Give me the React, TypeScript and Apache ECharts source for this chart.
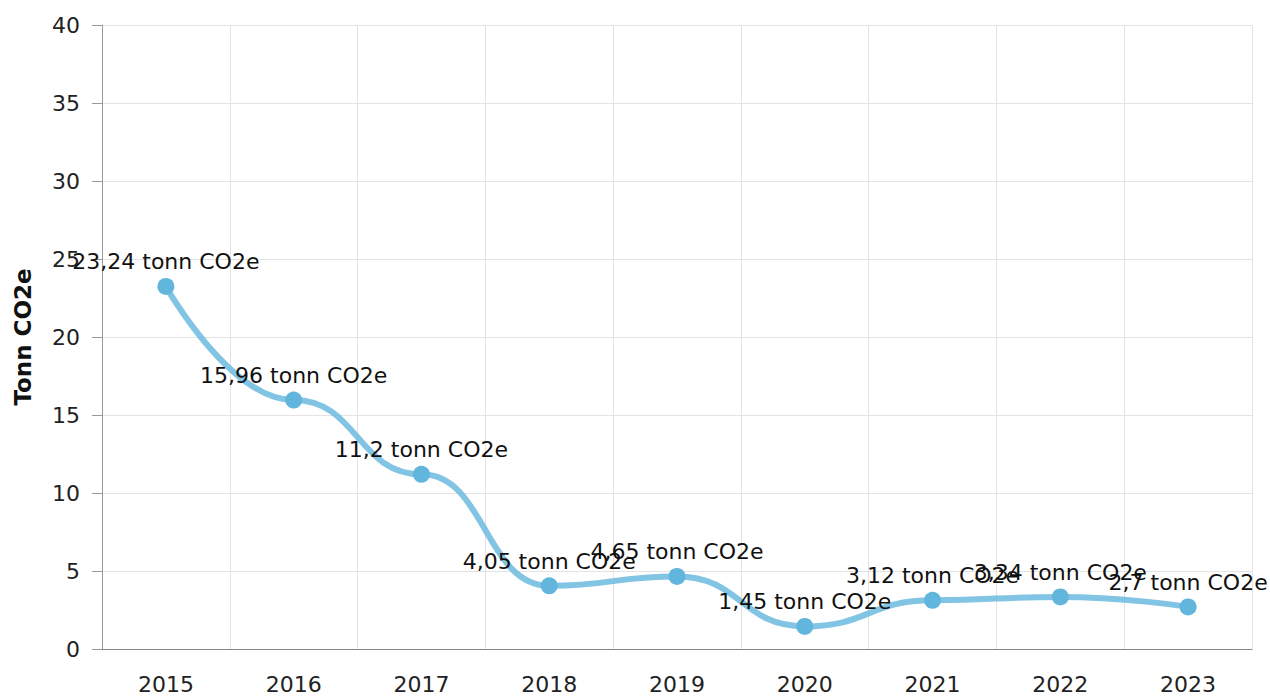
import React, { useEffect, useRef } from "react";
import * as echarts from "echarts";

const years = ["2015", "2016", "2017", "2018", "2019", "2020", "2021", "2022", "2023"];
const emissions = [23.24, 15.96, 11.2, 4.05, 4.65, 1.45, 3.12, 3.34, 2.7];
const yAxisName = "Tonn CO2e";
const unit = "tonn CO2e";

export default function App() {
  const ref = useRef<HTMLDivElement>(null);
  useEffect(() => {
    const chart = echarts.init(ref.current!, null, { renderer: "svg" });
    chart.setOption({
      animation: false,
      grid: { left: 102, right: 18, top: 25, bottom: 47, containLabel: false, outerBoundsMode: "none" },
      xAxis: {
        type: "category",
        data: years,
        boundaryGap: true,
        axisLine: { lineStyle: { color: "#888", width: 1 } },
        axisTick: { alignWithLabel: true, length: 8, lineStyle: { color: "#999" } },
        axisLabel: { color: "#222", fontSize: 22, fontFamily: "DejaVu Sans", margin: 24 },
        splitLine: { show: true, lineStyle: { color: "#e3e3e3" } },
      },
      yAxis: {
        type: "value",
        min: 0,
        max: 40,
        interval: 5,
        name: yAxisName,
        nameLocation: "middle",
        nameGap: 68,
        nameTextStyle: { fontFamily: "DejaVu Sans", fontWeight: "bold", fontSize: 23, color: "#111" },
        axisLine: { show: true, lineStyle: { color: "#999" } },
        axisTick: { show: true, length: 10, lineStyle: { color: "#999" } },
        axisLabel: { color: "#222", fontSize: 22, fontFamily: "DejaVu Sans", margin: 22 },
        splitLine: { show: true, lineStyle: { color: "#e3e3e3" } },
      },
      series: [
        {
          type: "line",
          data: emissions,
          smooth: 0.5,
          smoothMonotone: "x",
          symbol: "circle",
          symbolSize: 17,
          itemStyle: { color: "#62b5dc" },
          lineStyle: { color: "#62b5dc", width: 6, opacity: 0.8 },
          label: {
            show: true,
            position: "top",
            distance: 5,
            color: "#111",
            fontSize: 22,
            fontFamily: "DejaVu Sans",
            formatter: (p: any) => String(p.value).replace(".", ",") + " " + unit,
          },
          labelLayout: { hideOverlap: false },
        },
      ],
    });
    return () => chart.dispose();
  }, []);
  return (
    <div
      ref={ref}
      style={{ position: "absolute", left: 0, top: 0, width: 1270, height: 696 }}
    />
  );
}
